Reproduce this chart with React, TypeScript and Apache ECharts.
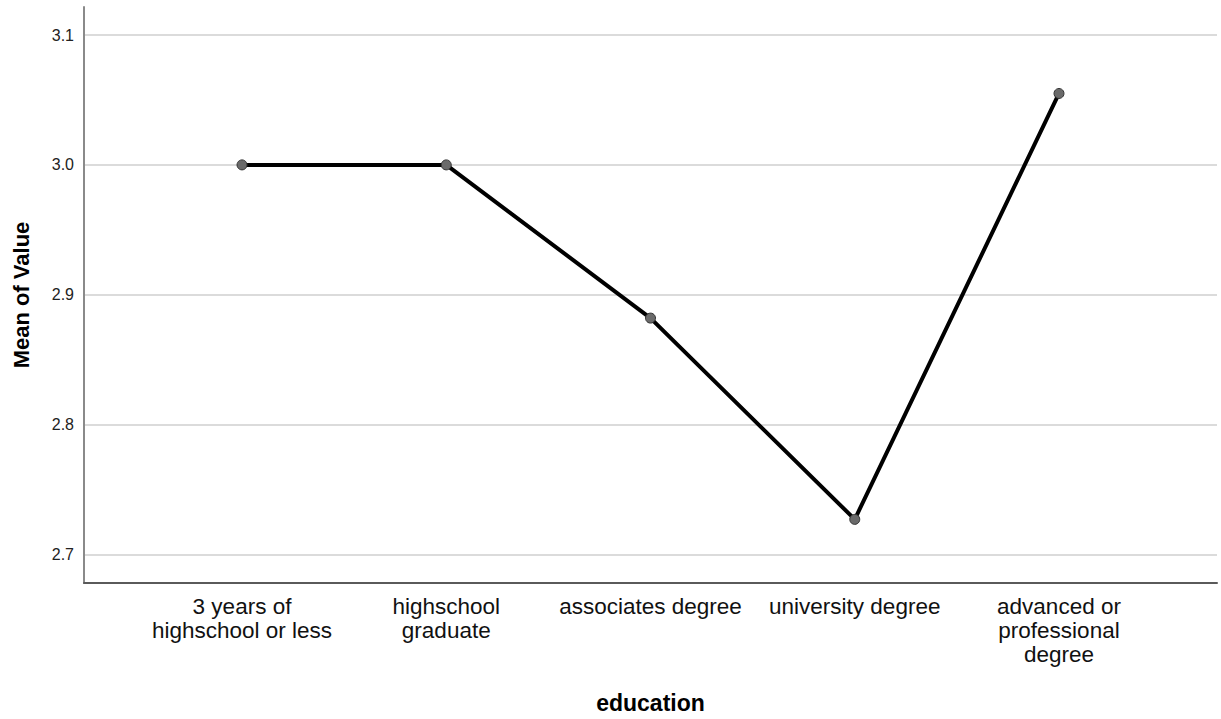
import React, { useEffect, useRef } from "react";
import * as echarts from "echarts";

const categories: string[] = [
  "3 years of\nhighschool or less",
  "highschool\ngraduate",
  "associates degree",
  "university degree",
  "advanced or\nprofessional\ndegree",
];
const meanValues: number[] = [3.0, 3.0, 2.882, 2.727, 3.055];
const yTicks: number[] = [2.7, 2.8, 2.9, 3.0, 3.1];
const yTickLabels: string[] = ["2.7", "2.8", "2.9", "3.0", "3.1"];

export default function App() {
  const ref = useRef<HTMLDivElement>(null);
  useEffect(() => {
    if (!ref.current) return;
    const chart = echarts.init(ref.current, null, { renderer: "svg" });
    const xIdx = categories.map((_, i) => i);
    chart.setOption({
      animation: false,
      backgroundColor: "#ffffff",
      grid: { left: 84, right: 4, top: 7, bottom: 134, containLabel: false },
      xAxis: {
        type: "value",
        min: -0.7736,
        max: 4.7736,
        name: "education",
        nameLocation: "middle",
        nameGap: 108,
        nameTextStyle: { fontFamily: "Liberation Sans, Arial", fontSize: 23, fontWeight: "bold", color: "#000" },
        axisLine: { show: true, onZero: false, lineStyle: { color: "#5a5a5a", width: 2 } },
        axisTick: { show: false, customValues: xIdx },
        splitLine: { show: false },
        axisLabel: {
          customValues: xIdx,
          margin: 11,
          fontFamily: "Liberation Sans, Arial",
          fontSize: 22.5,
          lineHeight: 24,
          color: "#111",
          align: "center",
          formatter: (v: number) => categories[Math.round(v)] ?? "",
        },
      },
      yAxis: {
        type: "value",
        min: 2.678,
        max: 3.1216,
        name: "Mean of Value",
        nameLocation: "middle",
        nameGap: 52,
        nameRotate: 90,
        nameTextStyle: { fontFamily: "Liberation Sans, Arial", fontSize: 22, fontWeight: "bold", color: "#000" },
        axisLine: { show: true, onZero: false, lineStyle: { color: "#8a8a8a", width: 2 } },
        axisTick: { show: false, customValues: yTicks },
        splitLine: { show: true, lineStyle: { color: "#cfcfcf", width: 1.5 } },
        axisLabel: {
          customValues: yTicks,
          margin: 10,
          fontFamily: "Liberation Sans, Arial",
          fontSize: 16,
          color: "#222",
          formatter: (v: number) => {
            const i = yTicks.findIndex((t) => Math.abs(t - v) < 1e-6);
            return i >= 0 ? yTickLabels[i] : "";
          },
        },
      },
      series: [
        {
          type: "line",
          data: meanValues.map((v, i) => [i, v]),
          lineStyle: { color: "#000", width: 4 },
          symbol: "circle",
          symbolSize: 10,
          itemStyle: { color: "#6a6a6a", borderColor: "#333", borderWidth: 1 },
          z: 5,
        },
      ],
    });
    return () => chart.dispose();
  }, []);
  return (
    <div
      ref={ref}
      style={{ position: "fixed", left: 0, top: 0, width: 1221, height: 719, background: "#fff" }}
    />
  );
}
